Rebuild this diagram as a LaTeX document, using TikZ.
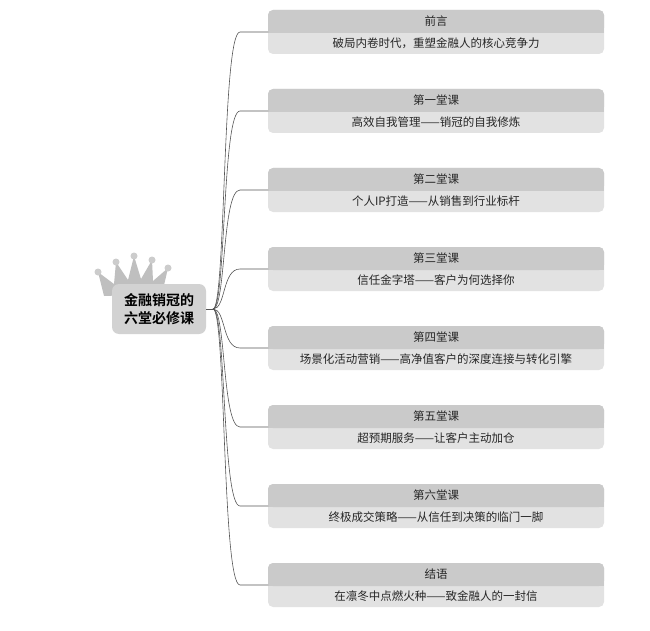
\documentclass[tikz,border=0pt]{standalone}
\usepackage{fontspec}
\newfontfamily\cjk{Noto Sans CJK SC}
\newfontfamily\cjkb{Noto Sans CJK SC Bold}
\definecolor{top}{HTML}{CACACA}
\definecolor{bot}{HTML}{E2E2E2}
\definecolor{ln}{HTML}{555555}
\begin{document}
\begin{tikzpicture}[x=1pt,y=-1pt,
  conn/.style={draw=ln,line width=0.6pt},
  lbl/.style={font=\cjk\fontsize{11.5}{13}\selectfont,text=black!85}]
\useasboundingbox (0,0) rectangle (650,631);
% crown
\fill[gray!50] (104,296) -- (98,272) -- (114,284) -- (116,262) -- (128,280) -- (134,256) -- (141,279) -- (152,260) -- (153,281) -- (168,268) -- (162,294) -- cycle;
\foreach \p in {(98,272),(116,262),(134,256),(152,260),(168,268)} \fill[gray!40] \p circle (3.5);
% root
\node[fill=gray!35,rounded corners=7pt,minimum width=94pt,minimum height=50pt,align=center,
  font=\cjkb\fontsize{14}{18}\selectfont] (root) at (159,309) {金融销冠的\\六堂必修课};
\coordinate (hub) at (213,309);
\draw[conn] (root.east) -- (hub);
\foreach \i/\t/\s in {0/前言/破局内卷时代，重塑金融人的核心竞争力,
  1/第一堂课/高效自我管理——销冠的自我修炼,
  2/第二堂课/个人IP打造——从销售到行业标杆,
  3/第三堂课/信任金字塔——客户为何选择你,
  4/第四堂课/场景化活动营销——高净值客户的深度连接与转化引擎,
  5/第五堂课/超预期服务——让客户主动加仓,
  6/第六堂课/终极成交策略——从信任到决策的临门一脚,
  7/结语/在凛冬中点燃火种——致金融人的一封信}{
  \pgfmathsetmacro\y{10+79*\i}
  \fill[bot,rounded corners=5pt] (268,\y) rectangle (604,\y+44);
  \fill[top,rounded corners=5pt] (268,\y) rectangle (604,\y+23);
  \fill[top] (268,\y+12) rectangle (604,\y+23);
  \node[lbl] (h\i) at (436,\y+11.5) {\t};
  \node[lbl] (s\i) at (436,\y+33.5) {\s};
  \coordinate (a\i) at (268,\y+22);
  \draw[conn] (hub) .. controls (226,309) and (222,\y+22) .. (240,\y+22) -- (a\i);
}
\end{tikzpicture}
\end{document}
